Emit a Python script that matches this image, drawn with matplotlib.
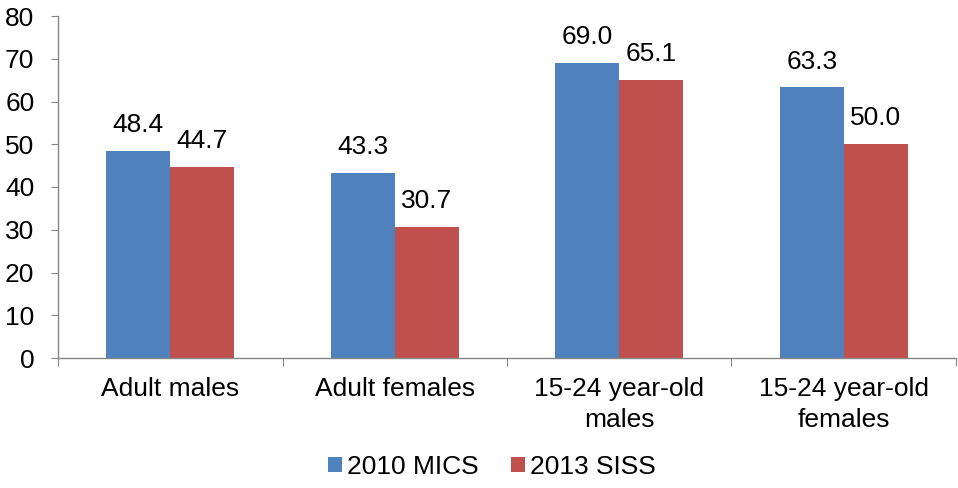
import matplotlib
matplotlib.use("Agg")
import matplotlib.pyplot as plt
import numpy as np

categories = ["Adult males", "Adult females", "15-24 year-old\nmales", "15-24 year-old\nfemales"]
mics_2010 = [48.4, 43.3, 69.0, 63.3]
siss_2013 = [44.7, 30.7, 65.1, 50.0]
series_names = ["2010 MICS", "2013 SISS"]

plt.rcParams['font.family'] = ['Liberation Sans', 'DejaVu Sans']
plt.rcParams['font.size'] = 19

fig = plt.figure(figsize=(9.58, 4.88), dpi=100)
ax = fig.add_axes([58 / 958, 1 - 358 / 488, (956 - 58) / 958, (358 - 16) / 488])

x = np.arange(len(categories))
w = 0.285
blue = "#4F81BD"
red = "#C0504D"
b1 = ax.bar(x - w / 2, mics_2010, w, color=blue, label=series_names[0])
b2 = ax.bar(x + w / 2, siss_2013, w, color=red, label=series_names[1])

for bars, vals in ((b1, mics_2010), (b2, siss_2013)):
    for rect, v in zip(bars, vals):
        ax.annotate(f"{v:.1f}", (rect.get_x() + rect.get_width() / 2, v),
                    xytext=(0, 10), textcoords="offset points",
                    ha="center", va="bottom", fontsize=19, color="black")

ax.set_xlim(-0.5, len(categories) - 0.5)
ax.set_ylim(0, 80)
ax.set_yticks(range(0, 81, 10))
ax.set_xticks(np.arange(-0.5, len(categories), 1.0), minor=False)
ax.set_xticklabels([])
ax.set_xticks(x, minor=True)
ax.set_xticklabels(categories, minor=True, linespacing=1.35)
ax.tick_params(axis="x", which="minor", length=0, pad=14)
ax.tick_params(axis="x", which="major", length=6, color="#868686")
ax.tick_params(axis="y", length=5, color="#868686", pad=12)

for s in ["top", "right"]:
    ax.spines[s].set_visible(False)
for s in ["left", "bottom"]:
    ax.spines[s].set_color("#868686")
    ax.spines[s].set_linewidth(1)

leg = fig.legend(handles=[b1, b2], loc="center", bbox_to_anchor=(492 / 958, 1 - 467 / 488),
                 ncol=2, frameon=False, handlelength=0.53, handleheight=0.53,
                 handletextpad=0.2, columnspacing=1.2, fontsize=19,
                 borderpad=0, borderaxespad=0)

fig.savefig("out.png", dpi=100)
